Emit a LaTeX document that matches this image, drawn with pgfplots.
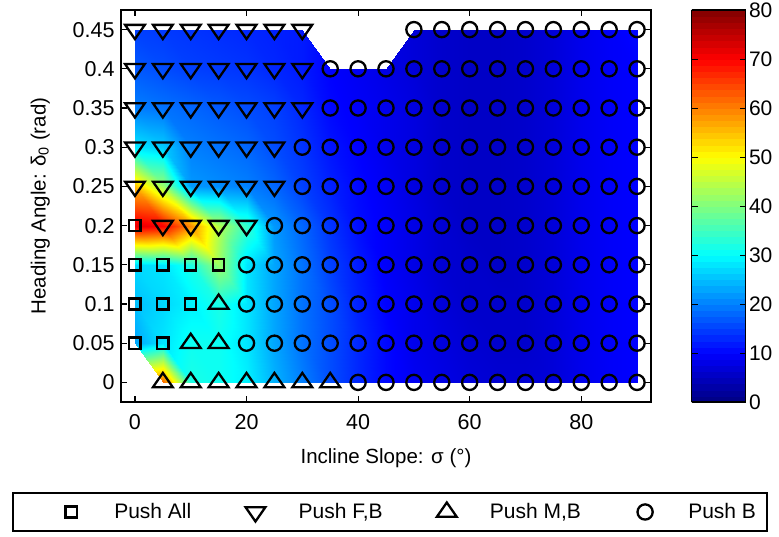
\documentclass[border=0pt]{standalone}
\usepackage{fontspec}
\setmainfont{Liberation Sans}
\usepackage{pgfplots}
\usepackage{pgfplotstable}
\pgfplotsset{compat=1.18}

% Peak-load field over the (slope, heading angle) grid; nan = no run at that setting
\pgfplotstableread{
x y z
nan nan nan
5 0 62
10 0 32
15 0 31
20 0 29
25 0 24
30 0 20
35 0 16
40 0 13
45 0 10.5
50 0 9
55 0 8
60 0 7
65 0 6.5
70 0 6.5
75 0 7
80 0 8.5
85 0 9.5
90 0 10

0 0.05 23
5 0.05 28
10 0.05 31
15 0.05 31
20 0.05 28
25 0.05 23
30 0.05 19
35 0.05 16
40 0.05 13
45 0.05 10.5
50 0.05 8.5
55 0.05 7.5
60 0.05 6.5
65 0.05 6
70 0.05 6
75 0.05 7
80 0.05 8.5
85 0.05 9.5
90 0.05 10

0 0.1 25
5 0.1 27
10 0.1 29
15 0.1 32
20 0.1 28
25 0.1 23
30 0.1 19
35 0.1 16
40 0.1 12.5
45 0.1 10
50 0.1 8.5
55 0.1 7
60 0.1 6
65 0.1 6
70 0.1 6
75 0.1 7
80 0.1 8.5
85 0.1 9.5
90 0.1 10

0 0.15 27
5 0.15 28
10 0.15 32
15 0.15 42
20 0.15 28
25 0.15 23
30 0.15 19
35 0.15 15
40 0.15 12
45 0.15 9.5
50 0.15 8
55 0.15 6.5
60 0.15 6
65 0.15 5.5
70 0.15 6
75 0.15 7
80 0.15 8.5
85 0.15 9.5
90 0.15 10

0 0.2 72
5 0.2 70
10 0.2 59
15 0.2 44
20 0.2 34
25 0.2 22
30 0.2 18
35 0.2 14
40 0.2 11
45 0.2 9.5
50 0.2 8
55 0.2 6.5
60 0.2 5.5
65 0.2 5.5
70 0.2 6
75 0.2 7
80 0.2 8.5
85 0.2 9.5
90 0.2 10

0 0.25 55
5 0.25 42
10 0.25 22
15 0.25 21
20 0.25 20
25 0.25 18
30 0.25 15
35 0.25 12.5
40 0.25 10.5
45 0.25 9
50 0.25 7.5
55 0.25 6
60 0.25 5.5
65 0.25 5.5
70 0.25 6
75 0.25 7
80 0.25 8.5
85 0.25 9.5
90 0.25 10

0 0.3 28
5 0.3 26
10 0.3 20
15 0.3 19
20 0.3 18
25 0.3 16
30 0.3 14
35 0.3 11.5
40 0.3 10
45 0.3 8.5
50 0.3 7.5
55 0.3 6
60 0.3 5.5
65 0.3 5.5
70 0.3 6
75 0.3 7
80 0.3 8.5
85 0.3 9.5
90 0.3 10

0 0.35 20
5 0.35 19
10 0.35 18
15 0.35 17
20 0.35 16
25 0.35 15
30 0.35 13
35 0.35 10.5
40 0.35 9.5
45 0.35 8.5
50 0.35 7.5
55 0.35 6
60 0.35 5.5
65 0.35 5.5
70 0.35 6
75 0.35 7
80 0.35 8.5
85 0.35 9.5
90 0.35 10

0 0.4 17
5 0.4 16
10 0.4 15
15 0.4 14.5
20 0.4 14
25 0.4 13
30 0.4 12
35 0.4 10
40 0.4 9
45 0.4 8
50 0.4 7
55 0.4 6
60 0.4 5.5
65 0.4 5.5
70 0.4 6
75 0.4 7
80 0.4 8.5
85 0.4 9.5
90 0.4 10

0 0.45 15
5 0.45 14.5
10 0.45 14
15 0.45 13.5
20 0.45 13
25 0.45 12.5
30 0.45 12
nan nan nan
nan nan nan
nan nan nan
50 0.45 7
55 0.45 6
60 0.45 5.5
65 0.45 5.5
70 0.45 6
75 0.45 7
80 0.45 8.5
85 0.45 9.5
90 0.45 10.5
}\field

% Half cells along the edge of the sampled region
\pgfplotstableread{
x y z
0 0.05 23
5 0.05 28
5 0 62
30 0.45 12
30 0.4 12
35 0.4 10
45 0.4 8
50 0.4 7
50 0.45 7
}\edgecells

\pgfplotsset{
  pmark/.style={only marks, black, line width=2.3bp,
    every mark/.append style={solid, line width=2.3bp},
    legend image code/.code={\path (0bp,0bp) (88bp,0bp);
      \draw[##1] plot coordinates {(48bp,0bp)};}},
}

\begin{document}
\begin{tikzpicture}[font=\fontsize{20.5bp}{24bp}\selectfont]
\useasboundingbox (0,0) rectangle (779bp,537bp);
\begin{axis}[
  at={(121bp,135bp)}, anchor=south west,
  scale only axis, width=530bp, height=392bp,
  xmin=-2.5, xmax=92.5, ymin=-0.025, ymax=0.475,
  xtick={0,20,40,60,80},
  ytick={0,0.05,0.1,0.15,0.2,0.25,0.3,0.35,0.4,0.45},
  yticklabels={0,0.05,0.1,0.15,0.2,0.25,0.3,0.35,0.4,0.45},
  scaled y ticks=false,
  tick align=inside, tick pos=both,
  major tick length=6bp,
  every tick/.style={black, line width=1.2bp},
  axis line style={black, line width=1.8bp},
  /pgf/number format/assume math mode=true,
  tick label style={font=\fontsize{21.5bp}{25bp}\selectfont},
  xticklabel style={yshift=-9bp},
  yticklabel style={xshift=-3bp},
  xlabel={Incline Slope: σ (°)},
  xlabel style={yshift=-12bp},
  ylabel={Heading Angle: δ\textsubscript{0} (rad)},
  ylabel style={yshift=16bp},
  colormap/jet,
  point meta min=0, point meta max=80,
  colorbar sampled,
  colorbar style={
    at={(parent axis.north east)}, anchor=north west, xshift=32bp,
    scale only axis, width=54bp, height=392bp,
    samples=65,
    ytick={0,10,...,80},
    tick align=inside, ytick pos=both, yticklabel pos=right,
    major tick length=6bp,
    every tick/.style={black, line width=1bp},
    axis line style={black, line width=1.5bp},
    /pgf/number format/assume math mode=true,
    tick label style={font=\fontsize{21bp}{25bp}\selectfont},
  },
  unbounded coords=jump,
  legend columns=4,
  legend style={
    at={(0.5075,-0.2806)}, anchor=center,
    draw=black, line width=1.8bp,
    inner xsep=9bp, inner ysep=9bp,
    font=\fontsize{21bp}{25bp}\selectfont,
    /tikz/every even column/.append style={column sep=13bp},
  },
]
\addplot[surf, shader=interp, point meta=explicit, mesh/cols=19, mesh/rows=10, forget plot]
  table[x=x, y=y, meta=z] {\field};
\addplot[patch, patch type=triangle, shader=interp, point meta=explicit, forget plot]
  table[x=x, y=y, meta=z] {\edgecells};

% Push All
\addplot[pmark, mark=square, mark size=5.6bp] coordinates {
  (0,0.2)
  (0,0.15) (5,0.15) (10,0.15) (15,0.15)
  (0,0.1) (5,0.1) (10,0.1)
  (0,0.05) (5,0.05)
};
\addlegendentry{Push All}
% Push F,B
\addplot[pmark, mark=triangle, mark size=9.5bp, mark options={rotate=180, xscale=1.2}] coordinates {
  (0,0.45) (5,0.45) (10,0.45) (15,0.45) (20,0.45) (25,0.45) (30,0.45)
  (0,0.4) (5,0.4) (10,0.4) (15,0.4) (20,0.4) (25,0.4) (30,0.4)
  (0,0.35) (5,0.35) (10,0.35) (15,0.35) (20,0.35) (25,0.35) (30,0.35)
  (0,0.3) (5,0.3) (10,0.3) (15,0.3) (20,0.3) (25,0.3)
  (0,0.25) (5,0.25) (10,0.25) (15,0.25) (20,0.25) (25,0.25)
  (5,0.2) (10,0.2) (15,0.2) (20,0.2)
};
\addlegendentry{Push F,B}
% Push M,B
\addplot[pmark, mark=triangle, mark size=9.5bp, mark options={xscale=1.2}] coordinates {
  (15,0.1)
  (10,0.05) (15,0.05)
  (5,0) (10,0) (15,0) (20,0) (25,0) (30,0) (35,0)
};
\addlegendentry{Push M,B}
% Push B
\addplot[pmark, mark=o, mark size=7.6bp] coordinates {
  (50,0.45) (55,0.45) (60,0.45) (65,0.45) (70,0.45) (75,0.45) (80,0.45) (85,0.45) (90,0.45)
  (35,0.4) (40,0.4) (45,0.4) (50,0.4) (55,0.4) (60,0.4) (65,0.4) (70,0.4) (75,0.4) (80,0.4) (85,0.4) (90,0.4)
  (35,0.35) (40,0.35) (45,0.35) (50,0.35) (55,0.35) (60,0.35) (65,0.35) (70,0.35) (75,0.35) (80,0.35) (85,0.35) (90,0.35)
  (30,0.3) (35,0.3) (40,0.3) (45,0.3) (50,0.3) (55,0.3) (60,0.3) (65,0.3) (70,0.3) (75,0.3) (80,0.3) (85,0.3) (90,0.3)
  (30,0.25) (35,0.25) (40,0.25) (45,0.25) (50,0.25) (55,0.25) (60,0.25) (65,0.25) (70,0.25) (75,0.25) (80,0.25) (85,0.25) (90,0.25)
  (25,0.2) (30,0.2) (35,0.2) (40,0.2) (45,0.2) (50,0.2) (55,0.2) (60,0.2) (65,0.2) (70,0.2) (75,0.2) (80,0.2) (85,0.2) (90,0.2)
  (20,0.15) (25,0.15) (30,0.15) (35,0.15) (40,0.15) (45,0.15) (50,0.15) (55,0.15) (60,0.15) (65,0.15) (70,0.15) (75,0.15) (80,0.15) (85,0.15) (90,0.15)
  (20,0.1) (25,0.1) (30,0.1) (35,0.1) (40,0.1) (45,0.1) (50,0.1) (55,0.1) (60,0.1) (65,0.1) (70,0.1) (75,0.1) (80,0.1) (85,0.1) (90,0.1)
  (20,0.05) (25,0.05) (30,0.05) (35,0.05) (40,0.05) (45,0.05) (50,0.05) (55,0.05) (60,0.05) (65,0.05) (70,0.05) (75,0.05) (80,0.05) (85,0.05) (90,0.05)
  (40,0) (45,0) (50,0) (55,0) (60,0) (65,0) (70,0) (75,0) (80,0) (85,0) (90,0)
};
\addlegendentry{Push B}
\end{axis}
\end{tikzpicture}
\end{document}
